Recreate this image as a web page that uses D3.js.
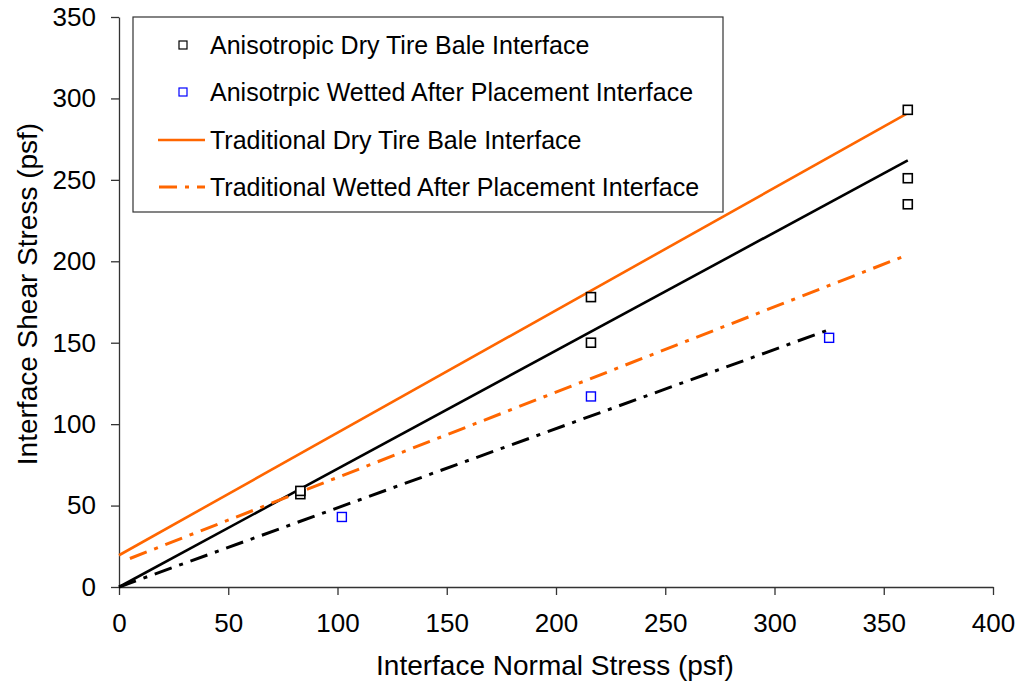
<!DOCTYPE html>
<html><head><meta charset="utf-8">
<script src="https://cdn.jsdelivr.net/npm/d3@7"></script>
<style>body{margin:0;background:#fff}svg{display:block}text{font-family:"Liberation Sans",Arial,sans-serif}</style>
</head><body><svg id="c" width="1019" height="691"></svg>
<script>
const xTicks = [0,50,100,150,200,250,300,350,400];
const yTicks = [0,50,100,150,200,250,300,350];
const dryPoints = [[83,57],[83,59],[216,178],[216,150],[361,293],[361,251],[361,235]];
const wetPoints = [[102,43],[216,117],[325,153]];
const tradDryLine = [[0,19.5],[361,291]];
const tradWetLine = [[5,17.5],[361,204]];
const anisoDryLine = [[0,0],[361,262]];
const anisoWetLine = [[0,0],[325,158]];
const legendLabels = ["Anisotropic Dry Tire Bale Interface","Anisotrpic Wetted After Placement Interface","Traditional Dry Tire Bale Interface","Traditional Wetted After Placement Interface"];

const svg = d3.select("#c");
const x = d3.scaleLinear().domain([0,400]).range([119,993]);
const y = d3.scaleLinear().domain([0,350]).range([587,17]);
const orange = "#ff6600";

const xa = svg.append("g").attr("transform","translate(0,587)")
  .call(d3.axisBottom(x).tickValues(xTicks).tickSize(8).tickSizeOuter(0).tickPadding(19));
const ya = svg.append("g").attr("transform","translate(119,0)")
  .call(d3.axisLeft(y).tickValues(yTicks).tickSize(8).tickSizeOuter(0).tickPadding(15));
[xa,ya].forEach(a=>{a.selectAll("path,line").attr("stroke","#333").attr("stroke-width",1.3);
  a.selectAll("text").attr("font-size",26).attr("fill","#000").attr("font-family","Liberation Sans, Arial, sans-serif");});

const line = d3.line().x(d=>x(d[0])).y(d=>y(d[1]));
svg.append("path").datum(tradDryLine).attr("d",line).attr("stroke",orange).attr("stroke-width",2.6).attr("fill","none");
svg.append("path").datum(anisoDryLine).attr("d",line).attr("stroke","#000").attr("stroke-width",2.6).attr("fill","none");
svg.append("path").datum(tradWetLine).attr("d",line).attr("stroke",orange).attr("stroke-width",3).attr("fill","none").attr("stroke-dasharray","18,8,4,8");
svg.append("path").datum(anisoWetLine).attr("d",line).attr("stroke","#000").attr("stroke-width",3).attr("fill","none").attr("stroke-dasharray","18,8,4,8");

const s = 9;
svg.selectAll(".dp").data(dryPoints).join("rect").attr("x",d=>x(d[0])-s/2).attr("y",d=>y(d[1])-s/2)
  .attr("width",s).attr("height",s).attr("fill","#fff").attr("stroke","#000").attr("stroke-width",1.6);
svg.selectAll(".wp").data(wetPoints).join("rect").attr("x",d=>x(d[0])-s/2).attr("y",d=>y(d[1])-s/2)
  .attr("width",s).attr("height",s).attr("fill","#fff").attr("stroke","#0000ff").attr("stroke-width",1.4);

// legend
const lg = svg.append("g");
lg.append("rect").attr("x",133).attr("y",17).attr("width",590).attr("height",195).attr("fill","#fff").attr("stroke","#333").attr("stroke-width",1.2);
const ly = [45,92,140,187];
legendLabels.forEach((t,i)=>{
  lg.append("text").attr("x",210).attr("y",ly[i]).attr("dy","0.36em").attr("font-size",25).text(t);
});
lg.append("rect").attr("x",179).attr("y",ly[0]-4).attr("width",8).attr("height",8).attr("fill","#fff").attr("stroke","#000").attr("stroke-width",1.2);
lg.append("rect").attr("x",179).attr("y",ly[1]-4).attr("width",8).attr("height",8).attr("fill","#fff").attr("stroke","#0000ff").attr("stroke-width",1.2);
lg.append("line").attr("x1",158).attr("x2",205).attr("y1",ly[2]).attr("y2",ly[2]).attr("stroke",orange).attr("stroke-width",2.6);
lg.append("line").attr("x1",159).attr("x2",205).attr("y1",ly[3]).attr("y2",ly[3]).attr("stroke",orange).attr("stroke-width",3).attr("stroke-dasharray","18,8,4,8");

svg.append("text").attr("x",555).attr("y",675).attr("text-anchor","middle").attr("font-size",28).text("Interface Normal Stress (psf)");
svg.append("text").attr("transform","translate(37,294) rotate(-90)").attr("text-anchor","middle").attr("font-size",28).text("Interface Shear Stress (psf)");
</script></body></html>
